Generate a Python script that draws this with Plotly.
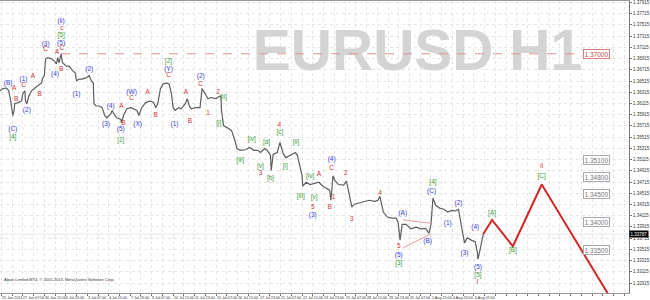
import plotly.graph_objects as go

# ---------------- data ----------------
bars = [0,4,10,13,16,19,21,22,27,32,
        34,37,38,40,43,47,52,56,62,63,
        66,68,71,77,81,84,86,88,91,93,
        99,103,108,112,114,118,122,128,133,136,
        139,140,143,148,152,156,159,165,167,171,
        174,180,181,184,189,195,199,204,207,211,
        217,224,229,232,235,239,243,248,252,255,
        258,261,266,270,276,279,282,285,291,298,
        301,305,310,314,322,325,329,330,333,339,
        345,350,353,358,366,372,378,384,388,394,
        398,403,404,407,413,417,422,426,432,440,
        443,447,450,451,456,462,469,475,481,487,
        491,493,496,499,504,512,516,519,524,528,
        535,543,550,558,563,566,571,577,584,590,
        593,596,599,605,612,620,627,634,639,642,
        645,649,655,661,667,673,679,683,686,689,
        692,696,702,708,711,712,715,718,720]
closes = [1.3634,1.3638,1.3639,1.3634,1.3616,1.3590,1.3599,1.3611,1.3613,1.3616,
          1.3629,1.3634,1.3616,1.3611,1.3625,1.3634,1.3639,1.3643,1.3648,1.3655,
          1.3661,1.3691,1.3693,1.3691,1.3687,1.3682,1.3693,1.3684,1.3700,1.3684,
          1.3678,1.3678,1.3670,1.3666,1.3652,1.3655,1.3655,1.3657,1.3661,1.3652,
          1.3648,1.3611,1.3607,1.3607,1.3604,1.3590,1.3586,1.3593,1.3599,1.3590,
          1.3586,1.3583,1.3577,1.3590,1.3602,1.3604,1.3602,1.3599,1.3590,1.3604,
          1.3613,1.3616,1.3613,1.3604,1.3611,1.3638,1.3646,1.3648,1.3646,1.3631,
          1.3604,1.3599,1.3604,1.3602,1.3611,1.3620,1.3607,1.3602,1.3604,1.3604,
          1.3638,1.3629,1.3620,1.3622,1.3620,1.3623,1.3625,1.3599,1.3572,1.3568,
          1.3563,1.3545,1.3531,1.3528,1.3529,1.3533,1.3528,1.3528,1.3524,1.3531,
          1.3528,1.3519,1.3492,1.3521,1.3524,1.3542,1.3522,1.3515,1.3519,1.3524,
          1.3519,1.3496,1.3483,1.3464,1.3471,1.3467,1.3469,1.3471,1.3464,1.3460,
          1.3457,1.3439,1.3482,1.3474,1.3467,1.3466,1.3473,1.3457,1.3427,1.3432,
          1.3434,1.3437,1.3439,1.3437,1.3439,1.3446,1.3418,1.3409,1.3407,1.3407,
          1.3400,1.3368,1.3396,1.3396,1.3388,1.3391,1.3388,1.3389,1.3380,1.3396,
          1.3443,1.3430,1.3425,1.3423,1.3418,1.3421,1.3420,1.3423,1.3400,1.3382,
          1.3363,1.3372,1.3368,1.3365,1.3347,1.3334,1.3350,1.3368,1.3379]

forecast_bars = [720, 733, 764, 807, 920]
forecast_price = [1.3379, 1.3404, 1.3357, 1.3467, 1.3244]

tri_upper_bars = [600, 642]
tri_upper_price = [1.3404, 1.3398]
tri_lower_bars = [600, 642]
tri_lower_price = [1.3354, 1.3379]

blue_text = ["(A)","(B)","(1)","(2)","(C)","(3)","(4)","(5)","(ii)","(2)","(1)","(4)","(3)","(5)",
             "(W)","(X)","(Y)","(1)","(2)","(3)","(4)","(A)","(5)","(B)","(C)","(1)","(2)","(3)","(4)","(5)"]
blue_bar = [-3,12,35,40,19,68,82,91,91,133,114,165,158,180,
            196,205,251,260,299,466,494,600,594,637,643,667,683,692,708,712]
blue_price = [1.3618,1.3648,1.3654,1.3599,1.3565,1.3717,1.3664,1.3719,1.3758,1.3673,1.3627,1.3606,1.3574,1.3565,
              1.3632,1.3574,1.3673,1.3574,1.3659,1.3412,1.3512,1.3416,1.3341,1.3365,1.3455,1.3398,1.3434,1.3345,1.3391,1.3320]

red_text = ["A","B","C","A","B","C","A","B","C","c","A","B","C","A","B","C","A","B","C",
            "1","2","3","4","A","5","C","2","1","B","3","4","5","I","ii"]
red_bar = [21,24,35,49,59,68,85,91,92,92,181,184,196,220,232,251,277,283,299,
           310,325,388,416,475,466,494,515,497,491,524,566,594,711,807]
red_price = [1.3639,1.3618,1.3643,1.3659,1.3627,1.3707,1.3702,1.3673,1.3709,1.3745,1.3607,1.3576,1.3620,
             1.3632,1.3591,1.3661,1.3632,1.3579,1.3646,
             1.3593,1.3632,1.3487,1.3572,1.3485,1.3427,1.3496,1.3487,1.3444,1.3427,1.3405,1.3451,1.3356,1.3292,1.3499]

green_text = ["[4]","[5]","[1]","[2]","[ii]","[i]","[iii]","[iv]","[v]","[a]","[b]","[c]","[i]","[ii]",
              "[iii]","[iv]","[v]","[3]","[4]","[5]","[A]","[B]","[C]"]
green_bar = [19,91,180,251,333,326,358,375,388,397,403,417,425,441,448,462,468,594,645,712,733,764,807]
green_price = [1.3551,1.3733,1.3545,1.3687,1.3622,1.3576,1.3510,1.3547,1.3499,1.3542,1.3478,1.3560,1.3499,1.3542,
               1.3446,1.3482,1.3444,1.3327,1.3471,1.3306,1.3416,1.3349,1.3482]

level_prices = [1.35100, 1.34800, 1.34500, 1.34000, 1.33500]
key_level = 1.37000
current_price = 1.33787

date_labels = ["25 Jun 2014","27 Jun 07:00","30 Jun 15:00","1 Jul 23:00","3 Jul 07:00","4 Jul 15:00",
               "7 Jul 23:00","9 Jul 07:00","10 Jul 15:00","11 Jul 23:00","15 Jul 07:00","16 Jul 15:00",
               "17 Jul 23:00","21 Jul 07:00","22 Jul 15:00","23 Jul 23:00","25 Jul 07:00","28 Jul 15:00",
               "29 Jul 23:00","31 Jul 07:00","1 Aug 15:00","4 Aug 23:00","6 Aug 07:00"]
date_bars = [32 * i for i in range(len(date_labels))]

price_ticks = [round(1.37915 - 0.002 * i, 5) for i in range(27)]

# ---------------- figure ----------------
FONT = "Liberation Sans, Arial, sans-serif"
BLUE, RED, GREEN = "#3b3bdc", "#d23434", "#3c9a3c"
X0, X1 = 0, 937
Y0, Y1 = 1.32737, 1.37941

fig = go.Figure()

# watermark (drawn first so it sits behind everything)
fig.add_trace(go.Scatter(x=[622], y=[1.3697], mode="text", text=["EURUSD H1"],
                         textfont=dict(family=FONT, size=57, color="#d4d4d4", weight="bold"),
                         hoverinfo="skip", showlegend=False))

# current price line
fig.add_trace(go.Scatter(x=[X0, X1], y=[current_price, current_price], mode="lines",
                         line=dict(color="#e6e6e6", width=1), showlegend=False, hoverinfo="skip"))

# key level dashed line
fig.add_trace(go.Scatter(x=[91, 870], y=[key_level, key_level], mode="lines",
                         line=dict(color="#e09090", width=1, dash="dash"), showlegend=False))

# price
fig.add_trace(go.Scatter(x=bars, y=closes, mode="lines",
                         line=dict(color="#5e5e5e", width=1.2), showlegend=False))

# triangle
for bx, py in ((tri_upper_bars, tri_upper_price), (tri_lower_bars, tri_lower_price)):
    fig.add_trace(go.Scatter(x=bx, y=py, mode="lines", line=dict(color="#e89a9a", width=1),
                             showlegend=False))

# forecast path
fig.add_trace(go.Scatter(x=forecast_bars, y=forecast_price, mode="lines",
                         line=dict(color="#d42828", width=2), showlegend=False))

# wave labels
for txt, bx, py, col in ((blue_text, blue_bar, blue_price, BLUE),
                         (red_text, red_bar, red_price, RED),
                         (green_text, green_bar, green_price, GREEN)):
    fig.add_trace(go.Scatter(x=bx, y=py, mode="text", text=txt,
                             textfont=dict(family=FONT, size=6.5, color=col),
                             showlegend=False, cliponaxis=False))

annotations = []
for p in level_prices:
    annotations.append(dict(x=888, y=p, xref="x", yref="y", text=f"{p:.5f}", showarrow=False,
                            font=dict(family=FONT, size=6.5, color="#777777"),
                            bordercolor="#aaaaaa", borderwidth=1, borderpad=0.5, bgcolor="white"))
annotations.append(dict(x=888, y=key_level, xref="x", yref="y", text=f"{key_level:.5f}", showarrow=False,
                        font=dict(family=FONT, size=6.5, color="#c84848"),
                        bordercolor="#d88080", borderwidth=1, borderpad=0.5, bgcolor="white"))
annotations.append(dict(x=1, y=current_price, xref="paper", yref="y", text=f"{current_price:.5f}",
                        showarrow=False, xanchor="left", font=dict(family=FONT, size=4.5, color="white"),
                        bgcolor="black", borderpad=0.5))
for b, lab in zip(date_bars, date_labels):
    annotations.append(dict(x=b, y=0, xref="x", yref="paper", text=lab, showarrow=False,
                            xanchor="left", yanchor="top", yshift=-0.5,
                            font=dict(family=FONT, size=3.7, color="#333333")))
annotations.append(dict(x=0.003, y=0.032, xref="paper", yref="paper", xanchor="left",
                        text="Alpari Limited MT4, \u00a9 2001-2013, MetaQuotes Software Corp.",
                        showarrow=False, font=dict(family=FONT, size=4, color="#333333")))

fig.update_layout(
    width=650, height=300, margin=dict(l=0, r=15, t=0, b=7),
    paper_bgcolor="white", plot_bgcolor="white",
    annotations=annotations,
    xaxis=dict(range=[X0, X1], tickvals=list(range(2, 937, 16)), showticklabels=False,
               showgrid=True, gridcolor="#e6e6e6", griddash="dot", gridwidth=1,
               zeroline=False, showline=True, linecolor="#999999", mirror=True,
               ticks="outside", ticklen=2, tickcolor="#777777"),
    yaxis=dict(range=[Y0, Y1], side="right", tickvals=price_ticks,
               ticktext=[f"{v:.5f}" for v in price_ticks],
               tickfont=dict(family=FONT, size=4.5, color="#333333"),
               showgrid=True, gridcolor="#e6e6e6", griddash="dot", gridwidth=1,
               zeroline=False, showline=True, linecolor="#777777",
               ticks="outside", ticklen=2, tickcolor="#777777"),
)

fig.write_html("out.html")
